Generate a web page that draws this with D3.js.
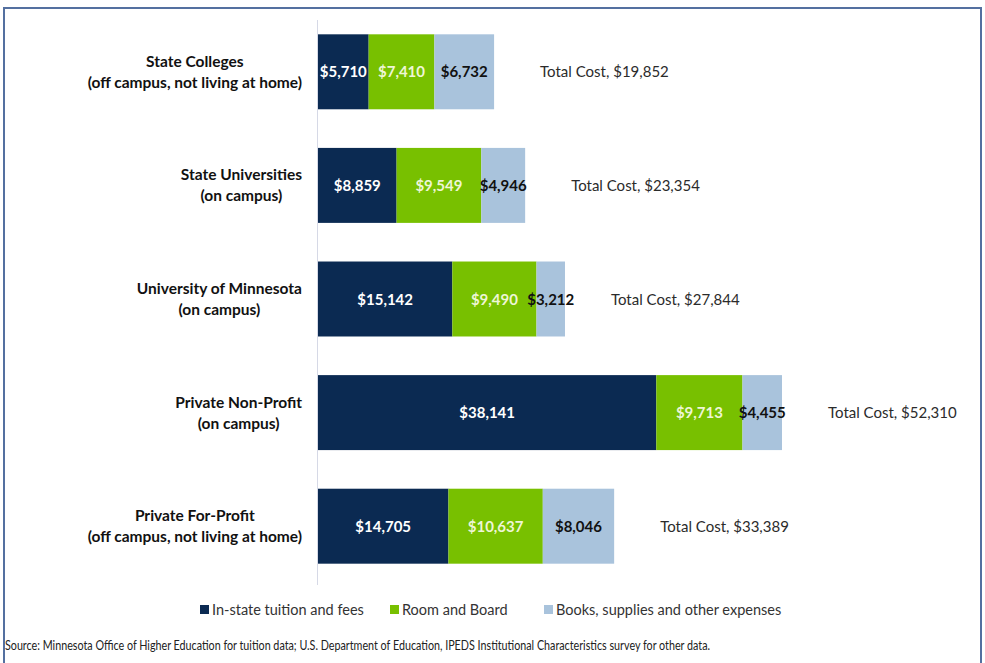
<!DOCTYPE html>
<html>
<head>
<meta charset="utf-8">
<script src="https://cdn.jsdelivr.net/npm/d3@7"></script>
<style>
  html, body { margin: 0; padding: 0; background: #fff; }
  svg { display: block; font-family: Lato, "Open Sans", sans-serif; }
</style>
</head>
<body>
<div id="view"></div>
<script>
// data
const categories = [
  ["State Colleges", "(off campus, not living at home)"],
  ["State Universities", "(on campus)"],
  ["University of Minnesota", "(on campus)"],
  ["Private Non-Profit", "(on campus)"],
  ["Private For-Profit", "(off campus, not living at home)"]
];
const seriesNames = ["In-state tuition and fees", "Room and Board", "Books, supplies and other expenses"];
const tuition = [5710, 8859, 15142, 38141, 14705];
const roomBoard = [7410, 9549, 9490, 9713, 10637];
const books = [6732, 4946, 3212, 4455, 8046];
const totals = [19852, 23354, 27844, 52310, 33389];
const sourceNote = "Source: Minnesota Office of Higher Education for tuition data; U.S. Department of Education, IPEDS Institutional Characteristics survey for other data.";

(function () {
  const W = 985, H = 663;
  const colors = ["#0b2a52", "#78c000", "#a9c3dc"];
  const labelColors = ["#ffffff", "#eef6d6", "#111111"];
  const fmt = d3.format("$,");

  const svg = d3.select("#view").append("svg")
    .attr("width", W).attr("height", H);

  // outer frame
  svg.append("rect")
    .attr("x", 4).attr("y", 8)
    .attr("width", 977).attr("height", 700)
    .attr("fill", "none")
    .attr("stroke", "#5470a0")
    .attr("stroke-width", 2);

  const rows = categories.map((c, i) => {
    const vals = [tuition[i], roomBoard[i], books[i]];
    let acc = 0;
    const segs = vals.map((v, k) => {
      const s = { k, v, x0: acc, x1: acc + v };
      acc += v;
      return s;
    });
    return { i, lines: c, segs, total: totals[i] };
  });

  const x = d3.scaleLinear().domain([0, 52310]).range([318, 782]);
  const y = d3.scaleBand()
    .domain(d3.range(categories.length))
    .range([15, 583])
    .paddingInner(0.34)
    .paddingOuter(0.17);

  // vertical axis line
  svg.append("line")
    .attr("x1", 317.5).attr("x2", 317.5)
    .attr("y1", 20).attr("y2", 585)
    .attr("stroke", "#d6d9e6")
    .attr("stroke-width", 1);

  const g = svg.append("g");

  const row = g.selectAll("g.row")
    .data(rows)
    .join("g")
    .attr("class", "row");

  row.selectAll("rect")
    .data(d => d.segs.map(s => ({ ...s, i: d.i })))
    .join("rect")
    .attr("x", s => x(s.x0))
    .attr("y", s => y(s.i))
    .attr("width", s => x(s.x1) - x(s.x0))
    .attr("height", y.bandwidth())
    .attr("fill", s => colors[s.k]);

  // value labels in segments
  row.selectAll("text.val")
    .data(d => d.segs.map(s => ({ ...s, i: d.i })))
    .join("text")
    .attr("class", "val")
    .attr("x", s => (x(s.x0) + x(s.x1)) / 2)
    .attr("y", s => y(s.i) + y.bandwidth() / 2 + 5.5)
    .attr("text-anchor", "middle")
    .attr("fill", s => labelColors[s.k])
    .style("font-size", "15px")
    .style("font-weight", "bold")
    .text(s => fmt(s.v));

  // total cost labels
  row.append("text")
    .attr("x", d => x(d.total) + 46)
    .attr("y", d => y(d.i) + y.bandwidth() / 2 + 5.5)
    .attr("fill", "#2b2b2b")
    .style("font-size", "15px")
    .text(d => "Total Cost, " + fmt(d.total));

  // category labels: block right aligned, lines centred
  row.each(function (d) {
    const t = d3.select(this).append("text")
      .attr("fill", "#111")
      .attr("text-anchor", "middle")
      .style("font-size", "15.5px")
      .style("font-weight", "bold");
    const cy = y(d.i) + y.bandwidth() / 2;
    const spans = d.lines.map((ln, j) =>
      t.append("tspan")
        .attr("y", cy - 5 + j * 21)
        .text(ln));
    const maxW = d3.max(spans, s => s.node().getComputedTextLength());
    spans.forEach(s => s.attr("x", 302 - maxW / 2));
  });

  // legend
  const legX = [200, 390, 544];
  const leg = svg.append("g").selectAll("g")
    .data(seriesNames)
    .join("g")
    .attr("transform", (d, k) => `translate(${legX[k]},610)`);
  leg.append("rect")
    .attr("x", 0).attr("y", -5)
    .attr("width", 9).attr("height", 9)
    .attr("fill", (d, k) => colors[k]);
  leg.append("text")
    .attr("x", 12).attr("y", 5)
    .attr("fill", "#333")
    .style("font-size", "14.5px")
    .text(d => d);

  // source note (condensed like the original)
  svg.append("text")
    .attr("x", 5).attr("y", 650)
    .attr("fill", "#222")
    .attr("textLength", 705)
    .attr("lengthAdjust", "spacingAndGlyphs")
    .style("font-size", "12.5px")
    .text(sourceNote);
})();
</script>
</body>
</html>
